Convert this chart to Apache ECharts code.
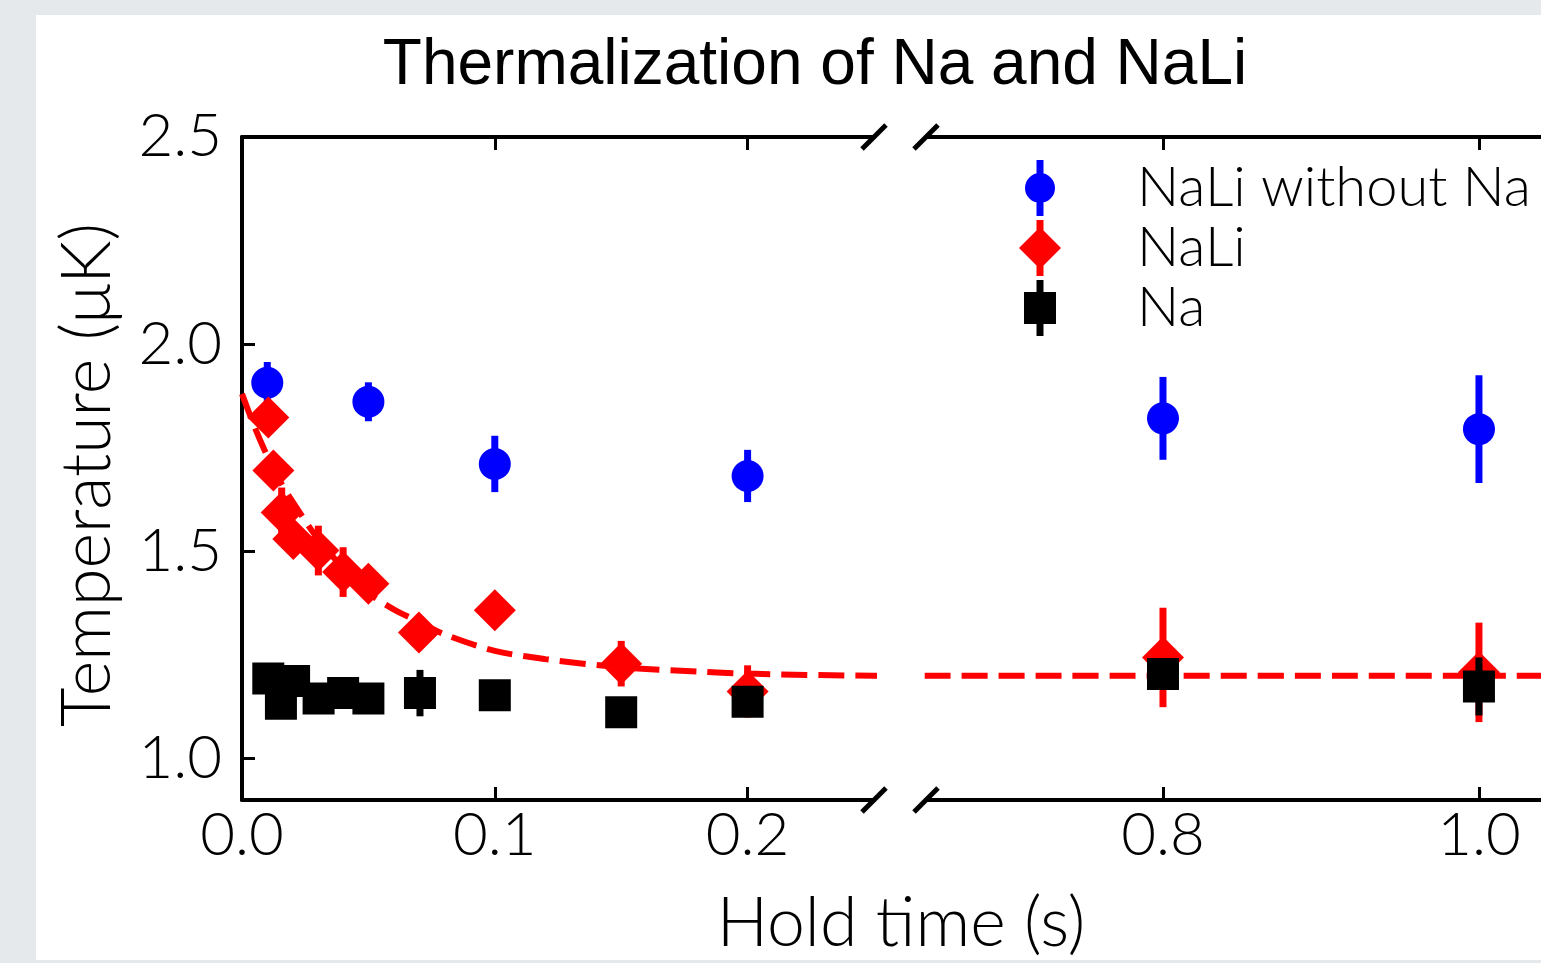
<!DOCTYPE html>
<html>
<head>
<meta charset="utf-8">
<title>Thermalization of Na and NaLi</title>
<script src="https://cdn.jsdelivr.net/npm/echarts@6/dist/echarts.min.js"></script>
<style>
  html, body { margin: 0; padding: 0; background: #e5e9ec; }
  #chart { position: absolute; left: 36px; top: 15px; width: 1505px; height: 945px; background: #fff; }
</style>
</head>
<body>
<div id="chart"></div>
<script>
// hold time (s), temperature (uK), half error bar (uK)
const naliAloneT = [0.01, 0.05, 0.1, 0.2, 0.8, 1.0]
const naliAloneY = [1.907, 1.861, 1.711, 1.682, 1.821, 1.795]
const naliAloneErr = [0.05, 0.047, 0.068, 0.063, 0.10, 0.13]

const naliT = [0.0104, 0.0124, 0.0157, 0.0203, 0.0302, 0.04, 0.05, 0.07, 0.1, 0.15, 0.2, 0.8, 1.0]
const naliY = [1.823, 1.695, 1.594, 1.530, 1.502, 1.450, 1.422, 1.304, 1.358, 1.229, 1.162, 1.244, 1.208]
const naliErr = [0.03, 0.03, 0.06, 0.04, 0.06, 0.06, 0.04, 0.04, 0.04, 0.055, 0.063, 0.12, 0.12]

const naT = [0.0104, 0.0154, 0.0206, 0.0303, 0.04, 0.05, 0.0704, 0.1, 0.15, 0.2, 0.8, 1.0]
const naY = [1.193, 1.132, 1.187, 1.145, 1.158, 1.145, 1.158, 1.153, 1.112, 1.137, 1.204, 1.174]
const naErr = [0.03, 0.03, 0.03, 0.03, 0.03, 0.03, 0.056, 0.03, 0.03, 0.03, 0.03, 0.07]

// dashed fit
const fitT = [0, 0.005, 0.01, 0.015, 0.02, 0.03, 0.04, 0.05, 0.06, 0.07, 0.08, 0.1, 0.12, 0.15, 0.18, 0.2, 0.25, 0.65, 1.05]
const fitY = [1.88, 1.80, 1.73, 1.67, 1.62, 1.53, 1.46, 1.40, 1.36, 1.33, 1.30, 1.26, 1.24, 1.22, 1.21, 1.205, 1.20, 1.20, 1.20]

const yTicks = [1.0, 1.5, 2.0, 2.5]
const xTicksLeft = [0.0, 0.1, 0.2]
const xTicksRight = [0.8, 1.0]

const cmFont = 'Lato'
const chart = echarts.init(document.getElementById('chart'))

const barPath = 'M-3.5,-28 h7 v56 h-7 Z M-21,0 L-21,0 Z M21,0 L21,0 Z '
const icons = {
  circle: 'path://' + barPath + 'M-15,0 A15,15 0 1,1 15,0 A15,15 0 1,1 -15,0 Z',
  diamond: 'path://' + barPath + 'M0,-21 L21,0 L0,21 L-21,0 Z',
  square: 'path://' + barPath + 'M-16,-16 h32 v32 h-32 Z'
}

function pick (t, y, e, right) {
  const pts = []
  t.forEach((v, i) => {
    if ((v > 0.5) === right) pts.push([v, y[i], e[i]])
  })
  return pts
}

const groups = [
  { name: 'NaLi without Na', color: '#0000ff', symbol: 'circle', size: 32, t: naliAloneT, y: naliAloneY, e: naliAloneErr, z: 3 },
  { name: 'NaLi', color: '#ff0000', symbol: 'diamond', size: 42, t: naliT, y: naliY, e: naliErr, z: 4 },
  { name: 'Na', color: '#000000', symbol: 'rect', size: 32, t: naT, y: naY, e: naErr, z: 5 }
]

const series = []
;[0, 1].forEach(p => {
  const xi = p === 0 ? 0 : 2
  series.push({
    type: 'line',
    xAxisIndex: xi,
    yAxisIndex: p,
    data: fitT.map((t, i) => [t, fitY[i]]),
    smooth: 0.3,
    showSymbol: false,
    clip: true,
    silent: true,
    z: 2,
    lineStyle: { color: '#ff0000', width: 6, type: [26, 11] }
  })
  groups.forEach(g => {
    const pts = pick(g.t, g.y, g.e, p === 1)
    series.push({
      type: 'custom',
      xAxisIndex: xi,
      yAxisIndex: p,
      z: g.z,
      silent: true,
      clip: true,
      data: pts.map(d => [d[0], d[1] - d[2], d[1] + d[2]]),
      encode: { x: 0, y: [1, 2] },
      renderItem (params, api) {
        const a = api.coord([api.value(0), api.value(1)])
        const b = api.coord([api.value(0), api.value(2)])
        return {
          type: 'line',
          shape: { x1: a[0], y1: a[1], x2: b[0], y2: b[1] },
          style: { stroke: g.color, lineWidth: 7 }
        }
      }
    })
    series.push({
      type: 'scatter',
      name: g.name,
      xAxisIndex: xi,
      yAxisIndex: p,
      z: g.z,
      symbol: g.symbol,
      symbolSize: g.size,
      itemStyle: { color: g.color, opacity: 1 },
      data: pts.map(d => [d[0], d[1]])
    })
  })
})

const fmt = v => Number(v).toFixed(1)
const lineStyle = { color: '#000', width: 4 }
const tickStyle = { color: '#000', width: 3 }

function xAxis (grid, pos, min, max, ticks, label) {
  return {
    type: 'value',
    gridIndex: grid,
    position: pos,
    min: min,
    max: max,
    axisLine: { show: true, onZero: false, lineStyle: lineStyle },
    axisTick: { show: true, inside: true, length: 13, lineStyle: tickStyle, customValues: ticks },
    axisLabel: {
      show: label,
      customValues: ticks,
      formatter: fmt,
      margin: 6,
      fontFamily: cmFont,
      fontWeight: 300,
      fontSize: 60,
      color: '#000'
    },
    splitLine: { show: false }
  }
}

function yAxis (grid, pos, label) {
  return {
    type: 'value',
    gridIndex: grid,
    position: pos,
    min: 0.9,
    max: 2.5,
    axisLine: { show: true, onZero: false, lineStyle: lineStyle },
    axisTick: { show: true, inside: true, length: 13, lineStyle: tickStyle, customValues: yTicks },
    axisLabel: {
      show: label,
      customValues: yTicks,
      formatter: fmt,
      margin: 20,
      fontFamily: cmFont,
      fontWeight: 300,
      fontSize: 60,
      color: '#000'
    },
    splitLine: { show: false }
  }
}

const option = {
  animation: false,
  grid: [
    { left: 206, top: 122, width: 632, height: 663, outerBoundsMode: 'none' },
    { left: 890, top: 122, width: 628, height: 663, outerBoundsMode: 'none' }
  ],
  xAxis: [
    xAxis(0, 'bottom', 0, 0.25, xTicksLeft, true),
    xAxis(0, 'top', 0, 0.25, xTicksLeft, false),
    xAxis(1, 'bottom', 0.65, 1.0475, xTicksRight, true),
    xAxis(1, 'top', 0.65, 1.0475, xTicksRight, false)
  ],
  yAxis: [
    yAxis(0, 'left', true),
    yAxis(1, 'right', false)
  ],
  legend: {
    orient: 'vertical',
    left: 978,
    top: 140,
    itemWidth: 42,
    itemHeight: 56,
    itemGap: 4,
    selectedMode: false,
    textStyle: { fontFamily: cmFont, fontWeight: 300, fontSize: 56, color: '#000', padding: [0, 0, 0, 71] },
    data: [
      { name: 'NaLi without Na', icon: icons.circle },
      { name: 'NaLi', icon: icons.diamond },
      { name: 'Na', icon: icons.square }
    ]
  },
  graphic: {
    elements: [
      {
        type: 'text', id: 'title', x: 779, y: 51,
        style: { text: 'Thermalization of Na and NaLi', fontFamily: 'Liberation Sans', fontSize: 64, fill: '#000', align: 'center', verticalAlign: 'middle' }
      },
      {
        type: 'text', id: 'xname', x: 865, y: 909,
        style: { text: 'Hold time (s)', fontFamily: cmFont, fontWeight: 300, fontSize: 68, fill: '#000', align: 'center', verticalAlign: 'middle' }
      },
      {
        type: 'text', id: 'yname', x: 52, y: 460, rotation: Math.PI / 2,
        style: { text: 'Temperature (μK)', fontFamily: cmFont, fontWeight: 300, fontSize: 68, fill: '#000', align: 'center', verticalAlign: 'middle' }
      }
    ]
  },
  series: series
}

chart.setOption(option)

// axis break marks at the inner ends of both panels
const breaks = []
;[[0, 0.25], [1, 0.65]].forEach(([g, xv]) => {
  [0.9, 2.5].forEach(yv => {
    const p = chart.convertToPixel({ gridIndex: g }, [xv, yv])
    breaks.push({
      type: 'line',
      id: 'brk' + g + '_' + yv,
      z: 10,
      shape: { x1: p[0] - 12, y1: p[1] + 12, x2: p[0] + 12, y2: p[1] - 12 },
      style: { stroke: '#000', lineWidth: 5 }
    })
  })
})
chart.setOption({ graphic: { elements: breaks } })
</script>
</body>
</html>
